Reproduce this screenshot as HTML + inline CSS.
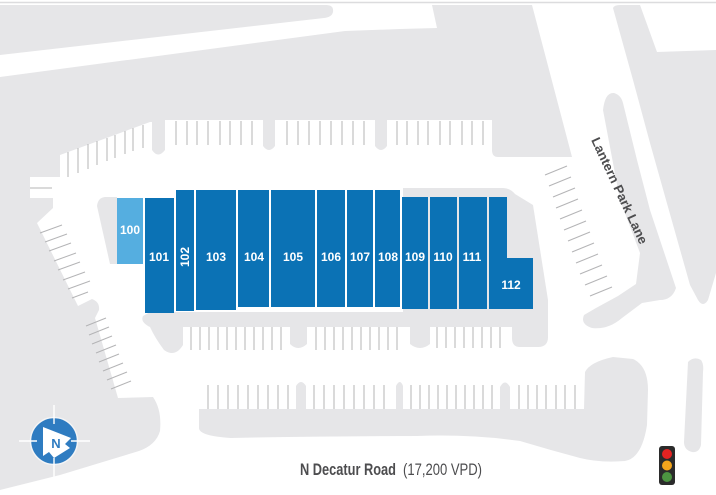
<!DOCTYPE html>
<html><head><meta charset="utf-8"><style>
html,body{margin:0;padding:0;background:#fff;}
svg{display:block;}
.b{fill:#0b72b5;}
.l{font-family:"Liberation Sans Narrow","Liberation Sans",sans-serif;font-weight:bold;font-size:12px;fill:#fff;text-anchor:middle;}
.t line{stroke:#b4b4b6;stroke-width:1;}
</style></head><body>
<svg width="716" height="495" viewBox="0 0 716 495" xmlns="http://www.w3.org/2000/svg">
<rect width="716" height="495" fill="#fff"/>
<line x1="0" y1="2.5" x2="716" y2="2.5" stroke="#dcdcde" stroke-width="1.6"/>
<g fill="#e6e6e8">
<path d="M0,5 L326,5 Q334,5 333,12 Q332,17 324,18 L0,55 Z"/>
<path d="M0,77 L345,31 L400,29 L437,28 L432,5 L532,5 L572,157 L498,157 Q492,157 492,150 L492,120 L387,120 L387,146 Q381,154 375,146 L375,120 L275,120 L275,146 Q269,154 263,146 L263,120 L165,120 L165,150 Q158,159 152,150 L152,122 L150,122 L60,155 L60,177 L30,177 L30,198 L53,198 L53,208 L37,223 L78,306 L92,299 Q100,302 99,310 L95,318 L118,398 L153,397 Q162,410 160,431 Q156,445 139,451 L60,475 L0,490 Z"/>
<path d="M613,8 Q614,5 620,5 L640,5 L657,52 L716,50 L716,273 L708,300 Q703,308 698,300 L690,285 L668,207 L650,143 L633,80 Z"/>
<path d="M603,110 Q605,92 614,93 Q621,95 623,103 L637,160 L650,210 L665,255 L676,288 Q672,300 660,300 L642,303 L622,318 Q608,330 592,328 Q580,324 584,315 L596,308 L618,296 L636,284 L640,253 L620,200 Z"/>
<path d="M97,206 Q98,197 106,197 L117,197 L117,264 L110,264 Z"/>
<path d="M403,188 L503,188 Q510,188 515,194 L533,205 L548,300 L548,337 Q548,347 538,347 L520,347 Q512,347 512,338 L512,327 L430,327 L430,344 Q420,352 410,344 L410,327 L307,327 L307,344 Q298,352 290,344 L290,327 L183,327 L183,345 Q175,358 164,350 Q155,338 150,327 Q140,322 143,316 L150,312 L403,312 Z"/>
<path d="M199,386 L199,409 L296,409 L296,386 Q301,378 306,386 L306,409 L396,409 L396,386 Q400,378 403,386 L403,409 L500,409 L500,387 Q505,378 510,387 L510,409 L584,409 L585,372 Q590,362 613,357 L633,359 Q648,366 648,390 L647,425 Q642,458 625,461 Q600,463 580,458 Q550,450 520,441 Q470,434 417,436 Q330,436 231,438 Q199,436 199,428 Z"/>
<path d="M688,362 Q694,356 701,360 Q704,364 703,372 L701,445 Q699,453 692,452 Q684,450 684,442 Z"/>
</g>
<g class="t">
<line x1="176" y1="121" x2="176" y2="145"/><line x1="187" y1="121" x2="187" y2="145"/><line x1="197" y1="121" x2="197" y2="145"/><line x1="208" y1="121" x2="208" y2="145"/><line x1="220" y1="121" x2="220" y2="145"/><line x1="230" y1="121" x2="230" y2="145"/><line x1="241" y1="121" x2="241" y2="145"/><line x1="252" y1="121" x2="252" y2="145"/>
<line x1="287" y1="121" x2="287" y2="145"/><line x1="298" y1="121" x2="298" y2="145"/><line x1="309" y1="121" x2="309" y2="145"/><line x1="320" y1="121" x2="320" y2="145"/><line x1="331" y1="121" x2="331" y2="145"/><line x1="342" y1="121" x2="342" y2="145"/><line x1="353" y1="121" x2="353" y2="145"/><line x1="364" y1="121" x2="364" y2="145"/>
<line x1="397" y1="121" x2="397" y2="145"/><line x1="407" y1="121" x2="407" y2="145"/><line x1="418" y1="121" x2="418" y2="145"/><line x1="428" y1="121" x2="428" y2="145"/><line x1="440" y1="121" x2="440" y2="145"/><line x1="450" y1="121" x2="450" y2="145"/><line x1="462" y1="121" x2="462" y2="145"/><line x1="472" y1="121" x2="472" y2="145"/><line x1="483" y1="121" x2="483" y2="145"/>
<line x1="68" y1="152" x2="68" y2="177"/><line x1="78" y1="148" x2="78" y2="173"/><line x1="88" y1="144" x2="88" y2="169"/><line x1="97" y1="141" x2="97" y2="165"/><line x1="107" y1="138" x2="107" y2="161"/><line x1="115" y1="135" x2="115" y2="158"/><line x1="125" y1="131" x2="125" y2="154"/><line x1="133" y1="128" x2="133" y2="151"/><line x1="143" y1="125" x2="143" y2="148"/>
<line x1="30" y1="188" x2="52" y2="188"/>
<line x1="40" y1="233" x2="62" y2="225"/><line x1="45" y1="242" x2="67" y2="234"/><line x1="49" y1="251" x2="71" y2="243"/><line x1="54" y1="261" x2="76" y2="253"/><line x1="58" y1="270" x2="80" y2="262"/><line x1="63" y1="280" x2="85" y2="272"/><line x1="68" y1="289" x2="90" y2="281"/><line x1="72" y1="298" x2="88" y2="292"/>
<line x1="86" y1="326" x2="106" y2="318"/><line x1="89" y1="335" x2="109" y2="327"/><line x1="92" y1="344" x2="112" y2="336"/><line x1="96" y1="353" x2="116" y2="345"/><line x1="99" y1="362" x2="119" y2="354"/><line x1="103" y1="371" x2="123" y2="363"/><line x1="107" y1="380" x2="127" y2="372"/><line x1="111" y1="389" x2="131" y2="381"/>
<line x1="545" y1="175" x2="567" y2="166"/><line x1="549" y1="186" x2="571" y2="177"/><line x1="553" y1="197" x2="575" y2="188"/><line x1="556" y1="208" x2="578" y2="199"/><line x1="560" y1="219" x2="582" y2="210"/><line x1="564" y1="230" x2="586" y2="221"/><line x1="568" y1="241" x2="590" y2="232"/><line x1="572" y1="252" x2="594" y2="243"/><line x1="576" y1="263" x2="598" y2="254"/><line x1="580" y1="274" x2="602" y2="265"/><line x1="585" y1="285" x2="607" y2="276"/><line x1="590" y1="296" x2="612" y2="287"/>
<line x1="191" y1="327" x2="191" y2="350"/><line x1="200" y1="327" x2="200" y2="350"/><line x1="209" y1="327" x2="209" y2="350"/><line x1="218" y1="327" x2="218" y2="350"/><line x1="227" y1="327" x2="227" y2="350"/><line x1="236" y1="327" x2="236" y2="350"/><line x1="245" y1="327" x2="245" y2="350"/><line x1="254" y1="327" x2="254" y2="350"/><line x1="263" y1="327" x2="263" y2="350"/><line x1="272" y1="327" x2="272" y2="350"/><line x1="281" y1="327" x2="281" y2="350"/>
<line x1="316" y1="327" x2="316" y2="350"/><line x1="325" y1="327" x2="325" y2="350"/><line x1="334" y1="327" x2="334" y2="350"/><line x1="343" y1="327" x2="343" y2="350"/><line x1="352" y1="327" x2="352" y2="350"/><line x1="361" y1="327" x2="361" y2="350"/><line x1="370" y1="327" x2="370" y2="350"/><line x1="379" y1="327" x2="379" y2="350"/><line x1="388" y1="327" x2="388" y2="350"/><line x1="397" y1="327" x2="397" y2="350"/>
<line x1="437" y1="327" x2="437" y2="348"/><line x1="446" y1="327" x2="446" y2="348"/><line x1="455" y1="327" x2="455" y2="348"/><line x1="464" y1="327" x2="464" y2="348"/><line x1="473" y1="327" x2="473" y2="348"/><line x1="482" y1="327" x2="482" y2="348"/><line x1="491" y1="327" x2="491" y2="348"/><line x1="500" y1="327" x2="500" y2="348"/>
<line x1="208" y1="385" x2="208" y2="409"/><line x1="218" y1="385" x2="218" y2="409"/><line x1="228" y1="385" x2="228" y2="409"/><line x1="238" y1="385" x2="238" y2="409"/><line x1="248" y1="385" x2="248" y2="409"/><line x1="258" y1="385" x2="258" y2="409"/><line x1="268" y1="385" x2="268" y2="409"/><line x1="278" y1="385" x2="278" y2="409"/><line x1="288" y1="385" x2="288" y2="409"/>
<line x1="314" y1="385" x2="314" y2="409"/><line x1="324" y1="385" x2="324" y2="409"/><line x1="334" y1="385" x2="334" y2="409"/><line x1="344" y1="385" x2="344" y2="409"/><line x1="354" y1="385" x2="354" y2="409"/><line x1="364" y1="385" x2="364" y2="409"/><line x1="374" y1="385" x2="374" y2="409"/><line x1="384" y1="385" x2="384" y2="409"/>
<line x1="411" y1="385" x2="411" y2="409"/><line x1="420" y1="385" x2="420" y2="409"/><line x1="429" y1="385" x2="429" y2="409"/><line x1="438" y1="385" x2="438" y2="409"/><line x1="447" y1="385" x2="447" y2="409"/><line x1="456" y1="385" x2="456" y2="409"/><line x1="465" y1="385" x2="465" y2="409"/><line x1="474" y1="385" x2="474" y2="409"/><line x1="483" y1="385" x2="483" y2="409"/><line x1="492" y1="385" x2="492" y2="409"/>
<line x1="519" y1="385" x2="519" y2="409"/><line x1="528" y1="385" x2="528" y2="409"/><line x1="537" y1="385" x2="537" y2="409"/><line x1="546" y1="385" x2="546" y2="409"/><line x1="556" y1="385" x2="556" y2="409"/><line x1="565" y1="385" x2="565" y2="409"/><line x1="575" y1="385" x2="575" y2="409"/>
</g>
<rect x="117" y="198" width="26" height="66" fill="#55aee0"/>
<rect class="b" x="145" y="198" width="29" height="115"/>
<rect class="b" x="176" y="190" width="18" height="121"/>
<rect class="b" x="196" y="190" width="40" height="120"/>
<rect class="b" x="238" y="190" width="31" height="117"/>
<rect class="b" x="271" y="190" width="44" height="117"/>
<rect class="b" x="317" y="190" width="28" height="117"/>
<rect class="b" x="347" y="190" width="26" height="117"/>
<rect class="b" x="375" y="190" width="25" height="117"/>
<rect class="b" x="402" y="197" width="26" height="112"/>
<rect class="b" x="430" y="197" width="27" height="112"/>
<rect class="b" x="459" y="197" width="28" height="112"/>
<path class="b" d="M489,197 L507,197 L507,258 L533,258 L533,309 L489,309 Z"/>
<text class="l" x="130" y="234">100</text>
<text class="l" x="159" y="261">101</text>
<text class="l" transform="translate(189,257) rotate(-90)" x="0" y="0">102</text>
<text class="l" x="216" y="261">103</text>
<text class="l" x="254" y="261">104</text>
<text class="l" x="293" y="261">105</text>
<text class="l" x="331" y="261">106</text>
<text class="l" x="360" y="261">107</text>
<text class="l" x="388" y="261">108</text>
<text class="l" x="415" y="261">109</text>
<text class="l" x="443" y="261">110</text>
<text class="l" x="472" y="261">111</text>
<text class="l" x="511" y="289">112</text>
<text transform="translate(591,140) rotate(65)" font-family="'Liberation Sans Narrow','Liberation Sans',sans-serif" font-weight="bold" font-size="13" fill="#4d4d4f" textLength="116" lengthAdjust="spacingAndGlyphs">Lantern Park Lane</text>
<text x="300" y="475" font-family="'Liberation Sans Narrow','Liberation Sans',sans-serif" font-size="17" fill="#4d4d4f"><tspan font-weight="bold" textLength="96" lengthAdjust="spacingAndGlyphs">N Decatur Road</tspan><tspan x="403" textLength="79" lengthAdjust="spacingAndGlyphs">(17,200 VPD)</tspan></text>
<circle cx="54" cy="441" r="23.5" fill="#2f7cc1" stroke="#f4f4f5" stroke-width="1.5"/>
<g stroke="#fff" stroke-width="1.4">
<line x1="54" y1="405" x2="54" y2="424"/><line x1="54" y1="458" x2="54" y2="478"/>
<line x1="19" y1="441" x2="37" y2="441"/><line x1="71" y1="441" x2="90" y2="441"/>
</g>
<path d="M43,427 L71,438 L65,444 L70,448 L54,458 L49,452 L43,456 Z" fill="#fff"/>
<text x="56" y="448" font-family="'Liberation Sans Narrow','Liberation Sans',sans-serif" font-weight="bold" font-size="13" fill="#2f7cc1" text-anchor="middle">N</text>
<rect x="659" y="446" width="16" height="39" rx="3" fill="#2b2b2b"/>
<circle cx="667" cy="454" r="5" fill="#e52322"/>
<circle cx="667" cy="465.5" r="5" fill="#f4a51c"/>
<circle cx="667" cy="477" r="5" fill="#4c9441"/>
</svg>
</body></html>
